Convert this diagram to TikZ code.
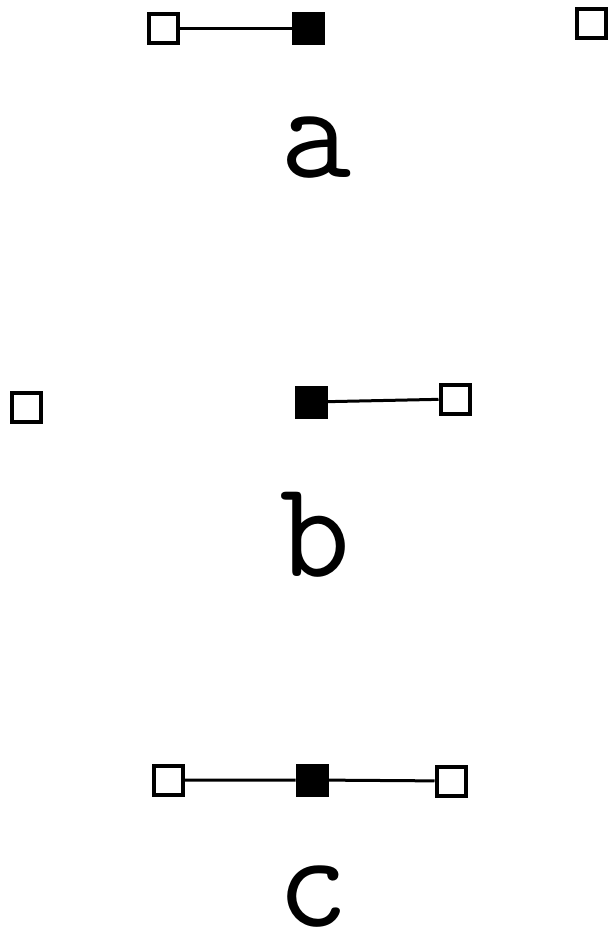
\documentclass[tikz,border=0pt]{standalone}
\usepackage{fontspec}
\begin{document}
\begin{tikzpicture}[x=1pt,y=-1pt,open/.style={draw,line width=4pt,minimum size=29pt,inner sep=0pt,fill=white},full/.style={open,fill=black},bond/.style={line width=3pt},tag/.style={anchor=base,inner sep=0pt,font=\ttfamily\fontsize{138}{138}\selectfont}]
\useasboundingbox[fill=white] (0,0) rectangle (608,940);
% a
\node[open] (aL) at (163,28) {};\node[full] (aM) at (308,28) {};\node[open] (aR) at (591,23) {};
\draw[bond] (aL) -- (aM);
\node[tag] (aT) at (316,177) {a};
% b
\node[open] (bL) at (26,407) {};\node[full] (bM) at (311,402) {};\node[open] (bR) at (455,399) {};
\draw[bond] (bM) -- (bR);
\node[tag] (bT) at (315,576) {b};
% c
\node[open] (cL) at (168,780) {};\node[full] (cM) at (312,780) {};\node[open] (cR) at (451,781) {};
\draw[bond] (cL) -- (cM) -- (cR);
\node[tag] (cT) at (313,926) {c};
\end{tikzpicture}
\end{document}
